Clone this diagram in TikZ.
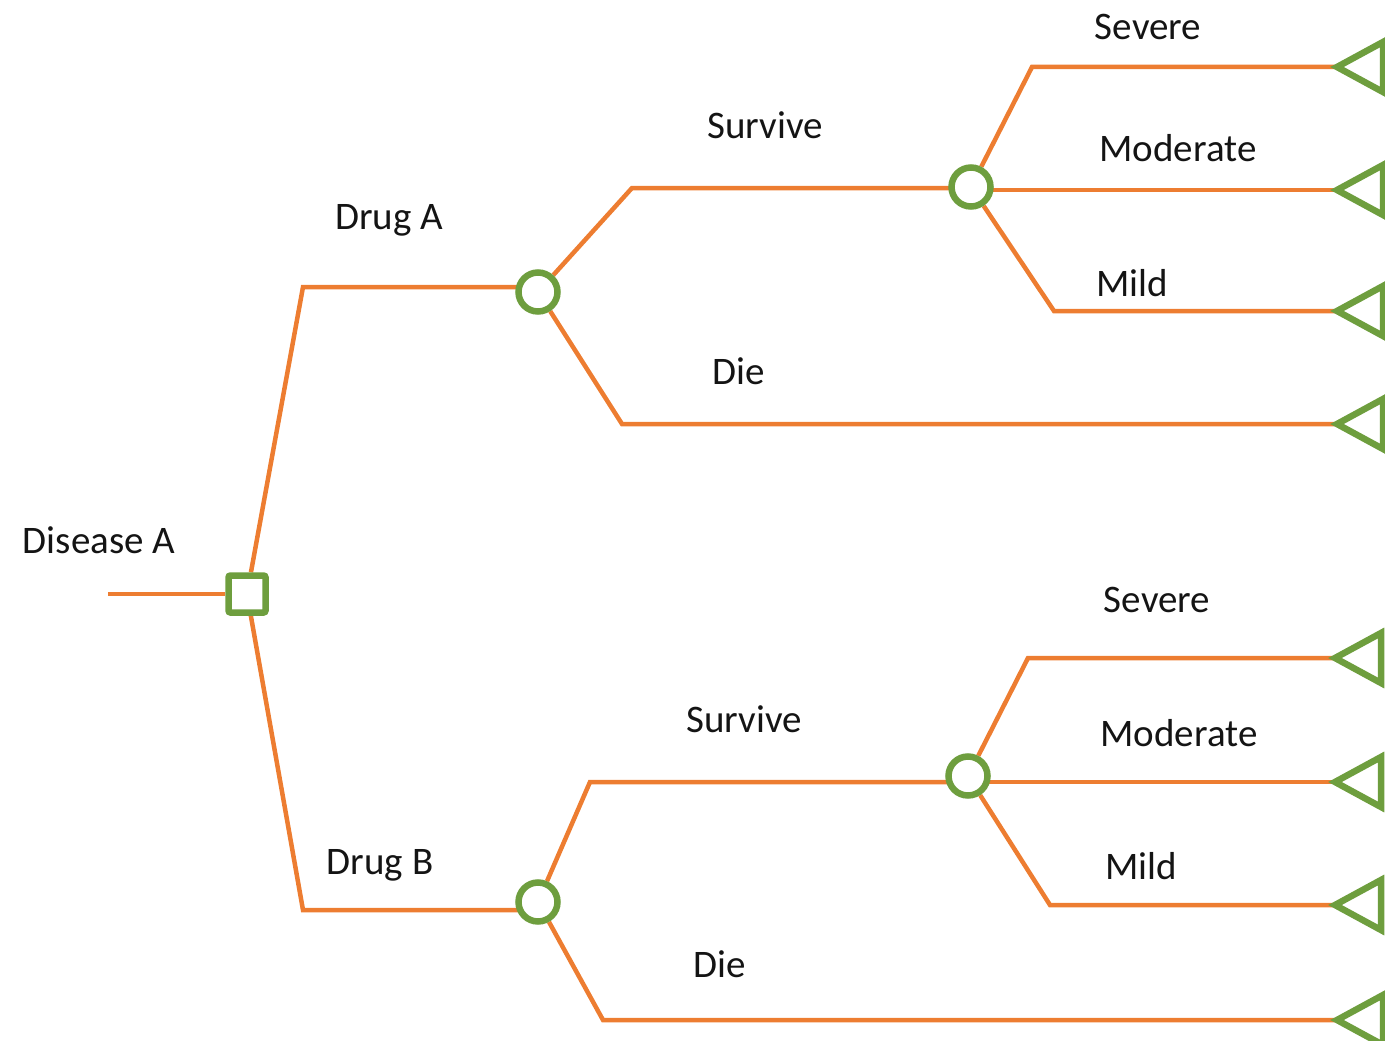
\documentclass[tikz,border=0pt]{standalone}
\usepackage{fontspec}
\setmainfont{Carlito}
\usetikzlibrary{backgrounds}
\definecolor{brorange}{HTML}{ED7D31}
\definecolor{nodegreen}{HTML}{6E9E3E}
\begin{document}
\begin{tikzpicture}[x=1pt,y=-1pt,
  branch/.style={draw=brorange, line width=4.5pt},
  chance/.style={circle, draw=nodegreen, line width=6.5pt, fill=white, minimum size=39pt, inner sep=0pt},
  decision/.style={rectangle, draw=nodegreen, line width=6.5pt, fill=white, minimum size=37pt, inner sep=0pt, rounded corners=2pt},
  term/.style={draw=nodegreen, line width=6.5pt, line join=miter, fill=white},
  lbl/.style={font=\fontsize{39}{46}\selectfont, inner sep=0pt, anchor=base, text=black!92}]
\useasboundingbox (0,0) rectangle (1385,1041);

% nodes
\coordinate (root) at (108,594);
\node[decision] (sq) at (247,594) {};
\node[chance] (cA) at (538,292) {};
\node[chance] (cB) at (538,902) {};
\node[chance] (c1) at (971,187) {};
\node[chance] (c2) at (968,776) {};

% bends
\coordinate (dA) at (303,287);
\coordinate (dB) at (303,910);
\coordinate (sA) at (632,188);
\coordinate (dieA) at (622,424);
\coordinate (sB) at (590,782);
\coordinate (dieB) at (603,1020);
\coordinate (sev1) at (1032,67);
\coordinate (mil1) at (1054,311);
\coordinate (sev2) at (1028,658);
\coordinate (mil2) at (1050,905);

% terminal tips
\coordinate (t1) at (1337,67);
\coordinate (t2) at (1337,190);
\coordinate (t3) at (1337,311);
\coordinate (t4) at (1337,424);
\coordinate (t5) at (1335,658);
\coordinate (t6) at (1335,782);
\coordinate (t7) at (1335,905);
\coordinate (t8) at (1337,1020);

\begin{pgfonlayer}{background}
\draw[branch] (root) -- (sq);
\draw[branch] (sq) -- (dA) -- (dA -| cA);
\draw[branch] (sq) -- (dB) -- (dB -| cB);
\draw[branch] (cA) -- (sA) -- (sA -| c1);
\draw[branch] (cA) -- (dieA) -- (t4);
\draw[branch] (c1) -- (sev1) -- (t1);
\draw[branch] (t2 -| c1) -- (t2);
\draw[branch] (c1) -- (mil1) -- (t3);
\draw[branch] (cB) -- (sB) -- (sB -| c2);
\draw[branch] (cB) -- (dieB) -- (t8);
\draw[branch] (c2) -- (sev2) -- (t5);
\draw[branch] (t6 -| c2) -- (t6);
\draw[branch] (c2) -- (mil2) -- (t7);
\end{pgfonlayer}

% terminal triangles
\foreach \t in {t1,t2,t3,t4,t5,t6,t7,t8}
  \draw[term] (\t) -- ++(46,-25) -- ++(0,50) -- cycle;

% labels
\node[lbl] at (99,553) {Disease A};
\node[lbl] at (389,229) {Drug A};
\node[lbl] at (380,874) {Drug B};
\node[lbl] at (765,139) {Survive};
\node[lbl] at (739,384) {Die};
\node[lbl] at (744,732) {Survive};
\node[lbl] at (720,977) {Die};
\node[lbl] at (1148,40) {Severe};
\node[lbl] at (1178,161) {Moderate};
\node[lbl] at (1132,296) {Mild};
\node[lbl] at (1157,612) {Severe};
\node[lbl] at (1179,746) {Moderate};
\node[lbl] at (1141,879) {Mild};
\end{tikzpicture}
\end{document}
